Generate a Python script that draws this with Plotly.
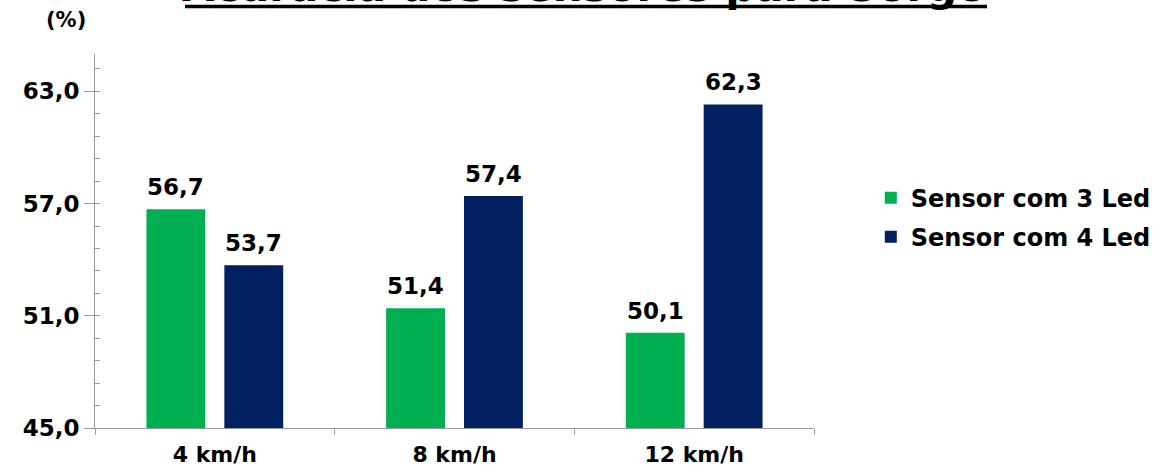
import plotly.graph_objects as go

categories = ["4 km/h", "8 km/h", "12 km/h"]
sensor3 = [56.7, 51.4, 50.1]
sensor4 = [53.7, 57.4, 62.3]
series_names = ["Sensor com 3 Led", "Sensor com 4 Led"]
title_text = "Acurácia dos sensores para Sorgo"
y_unit = "(%)"

GREEN = "#00B050"
NAVY = "#002060"
FONT = "DejaVu Sans"

fig = go.Figure()
fig.add_trace(go.Bar(x=categories, y=sensor3, name=series_names[0],
                     marker=dict(color=GREEN, line=dict(width=0)), legendgroup="a"))
fig.add_trace(go.Bar(x=categories, y=sensor4, name=series_names[1],
                     marker=dict(color=NAVY, line=dict(width=0)), legendgroup="b"))

ann = []
for vals, shift in ((sensor3, -39), (sensor4, 39)):
    for c, v in zip(categories, vals):
        ann.append(dict(x=c, y=v, xref="x", yref="y", xshift=shift, yshift=7,
                        text=f"{v:.1f}".replace(".", ","), showarrow=False,
                        yanchor="bottom", xanchor="center",
                        font=dict(family=FONT, size=23, color="black", weight="bold")))
ann.append(dict(x=0.68, y=1.11, xref="paper", yref="paper", text=title_text,
                showarrow=False, xanchor="center", yanchor="bottom",
                font=dict(family=FONT, size=42, color="black", weight="bold")))
ann.append(dict(x=-0.04, y=1.09, xref="paper", yref="paper", text=y_unit,
                showarrow=False, xanchor="center", yanchor="middle",
                font=dict(family=FONT, size=21, color="black", weight="bold")))

fig.update_layout(
    width=1173, height=466,
    margin=dict(l=95, r=359, t=54, b=38, autoexpand=False),
    paper_bgcolor="white", plot_bgcolor="white",
    barmode="group", bargap=0.35, bargroupgap=0.244,
    separators=",.",
    annotations=ann,
    shapes=[dict(type="line", xref="paper", yref="paper",
                 x0=(185 - 95) / 719, x1=(987 - 95) / 719,
                 y0=1.127, y1=1.127, line=dict(color="black", width=3.5))],
    legend=dict(x=1.079, y=0.675, xanchor="left", yanchor="top",
                font=dict(family=FONT, size=24, color="black", weight="bold"),
                tracegroupgap=5, traceorder="grouped", bgcolor="rgba(0,0,0,0)"),
    showlegend=True,
)
fig.update_xaxes(showline=True, linecolor="#9a9a9a", linewidth=1, automargin=False,
                 ticks="outside", tickson="boundaries", ticklen=6, tickcolor="#9a9a9a",
                 ticklabelstandoff=7,
                 tickfont=dict(family=FONT, size=22, color="black", weight="bold"),
                 showgrid=False, zeroline=False)
fig.update_yaxes(range=[45, 65], tick0=45, dtick=6, tickformat=".1f", automargin=False,
                 showline=True, linecolor="#9a9a9a", linewidth=1,
                 ticks="outside", ticklen=10, tickcolor="#9a9a9a",
                 minor=dict(dtick=1.2, tick0=45, ticks="inside", ticklen=5, tickcolor="#9a9a9a"),
                 tickfont=dict(family=FONT, size=23, color="black", weight="bold"),
                 showgrid=False, zeroline=False)

fig.write_html("out.html")
